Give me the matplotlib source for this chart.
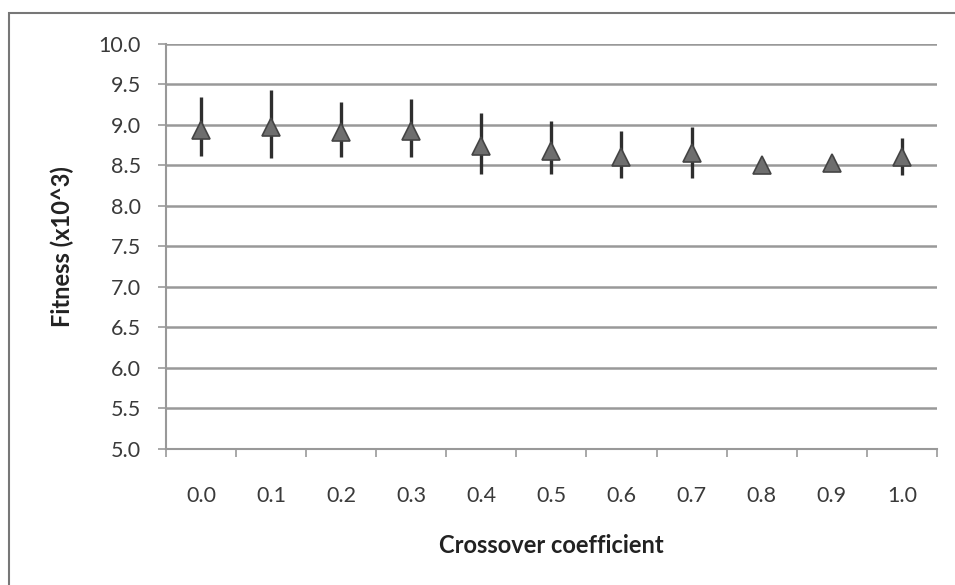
import matplotlib
matplotlib.use('Agg')
import matplotlib.pyplot as plt
from matplotlib.patches import Rectangle
import numpy as np

# data
coef_labels = ['0.0', '0.1', '0.2', '0.3', '0.4', '0.5', '0.6', '0.7', '0.8', '0.9', '1.0']
fitness = [8.94, 8.97, 8.91, 8.93, 8.74, 8.68, 8.60, 8.65, 8.51, 8.53, 8.60]
err_low = [8.62, 8.59, 8.61, 8.60, 8.40, 8.40, 8.34, 8.34, 8.46, 8.47, 8.38]
err_high = [9.34, 9.43, 9.28, 9.32, 9.15, 9.05, 8.93, 8.97, 8.58, 8.62, 8.84]

plt.rcParams['font.family'] = ['Lato', 'DejaVu Sans']

fig = plt.figure(figsize=(9.55, 5.85), dpi=100)
ax = fig.add_axes([0.1738, 0.2325, 0.8072, 0.6923])

x = np.arange(len(coef_labels))
fit = np.array(fitness)
yerr = [fit - np.array(err_low), np.array(err_high) - fit]

ax.errorbar(x, fit, yerr=yerr, fmt='none', ecolor='#2e2e2e', elinewidth=2.4, capsize=0, zorder=3)
ax.plot(x, fit, linestyle='none', marker='^', markersize=13, markerfacecolor='#6e6e6e',
        markeredgecolor='#444444', markeredgewidth=1.2, zorder=4)

ax.set_xlim(-0.5, len(coef_labels) - 0.5)
ax.set_ylim(5.0, 10.0)
yt = np.arange(5.0, 10.01, 0.5)
ax.set_yticks(yt)
ax.set_yticklabels(['%.1f' % v for v in yt])
ax.set_xticks(x)
ax.set_xticklabels(coef_labels)
ax.set_xticks(np.arange(-0.5, len(coef_labels), 1.0), minor=True)
ax.tick_params(axis='x', which='major', length=0, pad=27, labelsize=15.5, colors='#3a3a3a')
ax.tick_params(axis='x', which='minor', length=6, width=1.2, color='#999999', direction='out')
ax.tick_params(axis='y', length=6, width=1.2, color='#999999', pad=12, labelsize=15.5, labelcolor='#3a3a3a')

ax.grid(axis='y', color='#999999', linewidth=1.8)
ax.set_axisbelow(True)
for s in ['top', 'right']:
    ax.spines[s].set_visible(False)
for s in ['left', 'bottom']:
    ax.spines[s].set_color('#999999')
    ax.spines[s].set_linewidth(1.5)

ax.set_ylabel('Fitness (x10^3)', fontsize=17, fontweight='bold', color='#222222', labelpad=18)
ax.set_xlabel('Crossover coefficient', fontsize=17, fontweight='bold', color='#222222', labelpad=20)

# outer chart border
fig.patches.append(Rectangle((9 / 955, -0.05), 1.1, 1 - 13 / 585 + 0.05, transform=fig.transFigure,
                             fill=False, edgecolor='#777777', linewidth=1.5))

fig.savefig('out.png', dpi=100)
